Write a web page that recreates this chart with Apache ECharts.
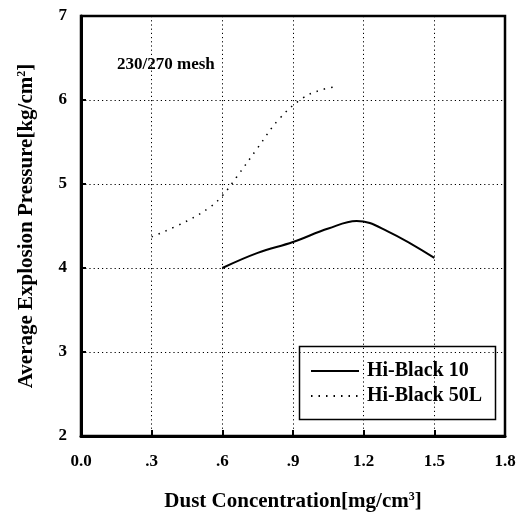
<!DOCTYPE html>
<html>
<head>
<meta charset="utf-8">
<script src="https://cdn.jsdelivr.net/npm/echarts@6/dist/echarts.min.js"></script>
<style>html,body{margin:0;padding:0;background:#fff}#c{width:527px;height:513px}</style>
</head>
<body>
<div id="c"></div>
<script>
// Data
const xTickValues = [0, 0.3, 0.6, 0.9, 1.2, 1.5, 1.8];
const xTickLabels = ['0.0', '.3', '.6', '.9', '1.2', '1.5', '1.8'];
const yTickLabels = ['2', '3', '4', '5', '6', '7'];

const hiBlack10X = [0.6, 0.75, 0.9, 1.05, 1.17, 1.3, 1.5];
const hiBlack10Y = [4.0, 4.18, 4.31, 4.47, 4.56, 4.44, 4.12];

const hiBlack50LX = [0.3, 0.45, 0.55, 0.6, 0.66, 0.75, 0.84, 0.94, 1.02, 1.09];
const hiBlack50LY = [4.37, 4.56, 4.73, 4.86, 5.08, 5.43, 5.77, 6.02, 6.12, 6.16];

const seriesNames = ['Hi-Black 10', 'Hi-Black 50L'];
const annotation = '230/270 mesh';

const FONT = '"Liberation Serif", "Times New Roman", serif';
const zip = (xs, ys) => xs.map((x, i) => [x, ys[i]]);
const supStyle = {fontFamily: FONT, fontSize: 12, fontWeight: 'bold', color: '#000', verticalAlign: 'top', padding: [0, 0, 10, 0]};

const chart = echarts.init(document.getElementById('c'), null, {renderer: 'canvas'});
chart.setOption({
  animation: false,
  backgroundColor: '#fff',
  grid: {left: 81, right: 22, top: 16, bottom: 77, show: true, borderColor: '#000', borderWidth: 2.5,
         containLabel: false, outerBoundsMode: 'none'},
  xAxis: {
    type: 'value', min: 0, max: 1.8, interval: 0.3,
    name: 'Dust Concentration[mg/cm{sup|3}]',
    nameLocation: 'middle', nameGap: 55,
    nameTextStyle: {fontFamily: FONT, fontSize: 21, fontWeight: 'bold', color: '#000', rich: {sup: supStyle}},
    axisLine: {show: true, lineStyle: {color: '#000', width: 3}},
    axisTick: {show: true, inside: true, length: 6, lineStyle: {color: '#000', width: 2}},
    axisLabel: {fontFamily: FONT, fontSize: 17, fontWeight: 'bold', color: '#000', margin: 17,
      formatter: v => { const i = xTickValues.findIndex(t => Math.abs(t - v) < 1e-6); return i >= 0 ? xTickLabels[i] : ''; }},
    splitLine: {show: true, lineStyle: {color: '#000', width: 1, type: [1.2, 3]}}
  },
  yAxis: {
    type: 'value', min: 2, max: 7, interval: 1,
    name: 'Average Explosion Pressure[kg/cm{sup|2}]',
    nameLocation: 'middle', nameGap: 43,
    nameTextStyle: {fontFamily: FONT, fontSize: 21, fontWeight: 'bold', color: '#000', rich: {sup: supStyle}},
    axisLine: {show: true, lineStyle: {color: '#000', width: 3}},
    axisTick: {show: true, inside: true, length: 5, lineStyle: {color: '#000', width: 2}},
    axisLabel: {fontFamily: FONT, fontSize: 17, fontWeight: 'bold', color: '#000', margin: 14,
      formatter: v => yTickLabels[Math.round(v - 2)] || ''},
    splitLine: {show: true, lineStyle: {color: '#000', width: 1, type: [1.2, 3]}}
  },
  legend: {
    orient: 'vertical', left: 305, top: 355,
    itemWidth: 48, itemHeight: 14, itemGap: 3,
    data: seriesNames,
    itemStyle: {opacity: 0, borderWidth: 0},
    textStyle: {fontFamily: FONT, fontSize: 20, fontWeight: 'bold', color: '#000', lineHeight: 22, padding: [0, 0, 0, 3]}
  },
  graphic: [
    {type: 'rect', left: 297, top: 344, shape: {width: 196, height: 73}, style: {fill: 'none', stroke: '#000', lineWidth: 1.5}, z: 100},
    {type: 'text', left: 117, top: 56, style: {text: annotation, font: 'bold 17px ' + FONT, fill: '#000'}, z: 100}
  ],
  series: [
    {name: seriesNames[0], type: 'line', smooth: 0.4, symbol: 'none', showSymbol: false,
     data: zip(hiBlack10X, hiBlack10Y), lineStyle: {color: '#000', width: 2}, itemStyle: {color: '#000'}},
    {name: seriesNames[1], type: 'line', smooth: 0.4, symbol: 'none', showSymbol: false,
     data: zip(hiBlack50LX, hiBlack50LY), lineStyle: {color: '#000', width: 1.5, type: [1.5, 6]}, itemStyle: {color: '#000'}}
  ]
});
</script>
</body>
</html>
